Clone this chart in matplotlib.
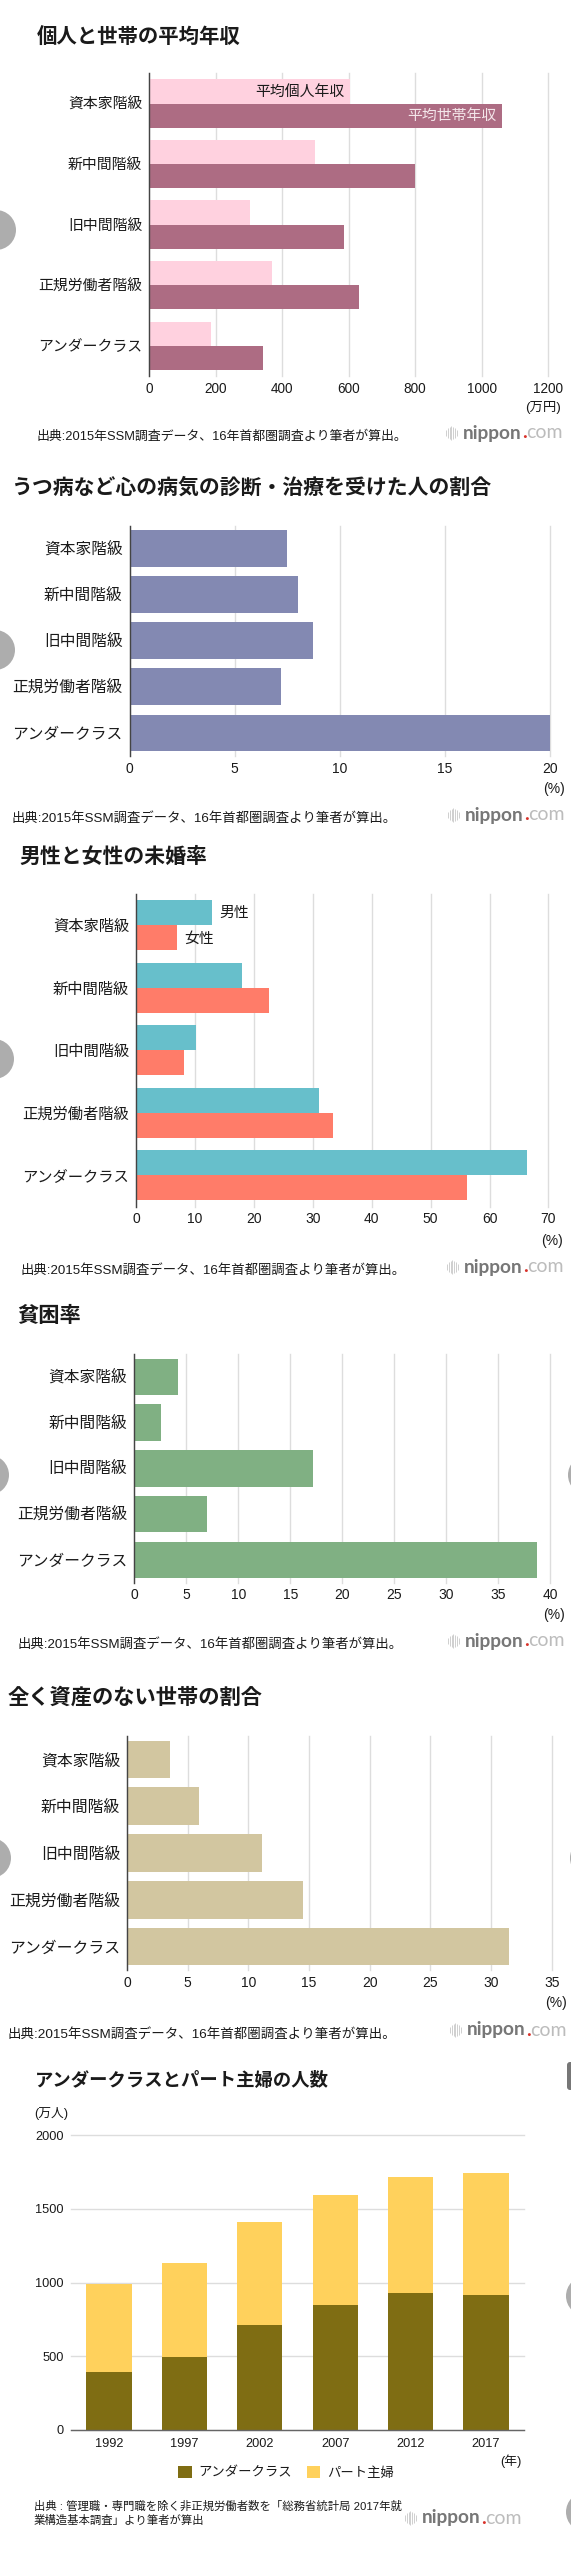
#!/usr/bin/env python

import numpy as np
import matplotlib
matplotlib.use('Agg')
import matplotlib.pyplot as plt
from matplotlib.patches import Circle, FancyBboxPatch

#################################################

# - Data
classes = ['資本家階級', '新中間階級', '旧中間階級', '正規労働者階級', 'アンダークラス']

income_personal = [604, 499, 303, 369, 185]
income_household = [1061, 799, 586, 630, 343]
depression = [7.5, 8.0, 8.7, 7.2, 20.0]
unmarried_men = [12.9, 18.0, 10.2, 31.0, 66.4]
unmarried_women = [7.0, 22.6, 8.1, 33.5, 56.1]
poverty = [4.2, 2.6, 17.2, 7.0, 38.7]
no_assets = [3.5, 5.9, 11.1, 14.5, 31.5]

years = ['1992', '1997', '2002', '2007', '2012', '2017']
underclass = [395, 495, 712, 847, 929, 915]
part_wives = [597, 639, 696, 744, 786, 825]

source_text = '出典:2015年SSM調査データ、16年首都圏調査より筆者が算出。'

W, H = 571, 2552
plt.rcParams['font.family'] = ['Liberation Sans', 'Noto Sans CJK JP']
TXT = '#1a1a1a'

fig = plt.figure(figsize=(W / 100, H / 100), dpi=100)


def px_axes(left, top, right, bottom):
    return fig.add_axes([left / W, 1 - bottom / H, (right - left) / W, (bottom - top) / H])


def style_hbar(ax, xmax, step, cat_size, tick_size):
    ax.set_xlim(0, xmax)
    ax.set_ylim(4.5, -0.5)
    ax.set_yticks(range(len(classes)))
    ax.set_yticklabels(classes, fontsize=cat_size, color=TXT)
    ax.set_xticks(np.arange(0, xmax + step, step))
    ax.tick_params(axis='both', length=0, labelsize=tick_size, labelcolor=TXT)
    ax.tick_params(axis='y', pad=5, labelsize=cat_size)
    ax.tick_params(axis='x', pad=4)
    ax.grid(axis='x', color='#dddddd', linewidth=1.0)
    for line in ax.get_xgridlines():
        line.set_clip_on(False)
    ax.set_axisbelow(True)
    for s in ['top', 'right', 'bottom']:
        ax.spines[s].set_visible(False)
    ax.spines['left'].set_color('#444444')
    ax.spines['left'].set_linewidth(1.0)


# - Chart 1: income
ax1 = px_axes(149.3, 73.3, 548, 376)
y = np.arange(len(classes))
ax1.barh(y - 0.2, income_personal, height=0.4, color='#ffd1df')
ax1.barh(y + 0.2, income_household, height=0.4, color='#ad6c83')
style_hbar(ax1, 1200, 200, 10.7, 9.8)

# - Chart 2: depression
ax2 = px_axes(129.6, 525.7, 550.2, 756)
ax2.barh(y, depression, height=0.8, color='#8389b2')
style_hbar(ax2, 20, 5, 11.3, 10)

# - Chart 3: unmarried
ax3 = px_axes(136.2, 894, 548.4, 1206.7)
ax3.barh(y - 0.2, unmarried_men, height=0.4, color='#67bfcb')
ax3.barh(y + 0.2, unmarried_women, height=0.4, color='#ff7c69')
style_hbar(ax3, 70, 10, 11, 10)

# - Chart 4: poverty
ax4 = px_axes(134.4, 1354, 550.2, 1582.7)
ax4.barh(y, poverty, height=0.8, color='#80b083')
style_hbar(ax4, 40, 5, 11.3, 10)

# - Chart 5: no assets
ax5 = px_axes(127.1, 1736, 551.7, 1970)
ax5.barh(y, no_assets, height=0.8, color='#d2c6a0')
style_hbar(ax5, 35, 5, 11.4, 10)

# - Chart 6: stacked columns
ax6 = px_axes(71.4, 2135, 523.7, 2430)
x = np.arange(len(years))
ax6.bar(x, underclass, width=0.6, color='#7f6d13', label='アンダークラス')
ax6.bar(x, part_wives, width=0.6, bottom=underclass, color='#ffd15c', label='パート主婦')
ax6.set_xlim(-0.5, 5.5)
ax6.set_ylim(0, 2000)
ax6.set_xticks(x)
ax6.set_xticklabels(years)
ax6.set_yticks([0, 500, 1000, 1500, 2000])
ax6.tick_params(axis='both', length=0, labelsize=9.2, labelcolor=TXT)
ax6.tick_params(axis='x', pad=6)
ax6.tick_params(axis='y', pad=5.5)
ax6.grid(axis='y', color='#dddddd', linewidth=1.0)
for line in ax6.get_ygridlines():
    line.set_clip_on(False)
ax6.set_axisbelow(True)
for s in ['top', 'right', 'left']:
    ax6.spines[s].set_visible(False)
ax6.spines['bottom'].set_color('#666666')
ax6.spines['bottom'].set_linewidth(1.0)
ax6.legend(loc='center', bbox_to_anchor=(286 / W, 1 - 2473 / H), bbox_transform=fig.transFigure,
           ncol=2, frameon=False, fontsize=9.6, handlelength=1.0, handleheight=1.0,
           handletextpad=0.5, columnspacing=1.1, labelcolor=TXT)

# - Overlay in pixel coordinates for titles, notes and the page furniture
ov = fig.add_axes([0, 0, 1, 1], zorder=10)
ov.set_xlim(0, W)
ov.set_ylim(H, 0)
ov.axis('off')
ov.patch.set_alpha(0)


def label(px, py, s, size, ha='left', color=TXT, **kw):
    return ov.text(px, py, s, fontsize=size, ha=ha, va='center', color=color, **kw)


def logo(right, py):
    r = fig.canvas.get_renderer()
    com = ov.text(right, py, 'com', fontsize=14, ha='right', va='center', color='#bcbcbc',
                  family=['Lato'], fontweight='normal')
    x0 = com.get_window_extent(r).x0
    dot = ov.text(x0, py, '.', fontsize=14, ha='right', va='center', color='#d8322a',
                  family=['Lato'], fontweight='bold')
    x0 = dot.get_window_extent(r).x0
    nip = ov.text(x0, py, 'nippon', fontsize=13.8, ha='right', va='center', color='#777777',
                  family=['Lato'], fontweight='bold')
    x0 = nip.get_window_extent(r).x0 - 5
    for i, h in enumerate([3, 5, 6, 7, 6, 5, 3]):
        ov.vlines(x0 - 12 + i * 1.8, py - h, py + h, color='#cfcfcf', linewidth=0.7)


label(36.4, 37, '個人と世帯の平均年収', 14.7, fontweight='bold')
label(11, 487, 'うつ病など心の病気の診断・治療を受けた人の割合', 15, fontweight='bold')
label(19, 857, '男性と女性の未婚率', 15, fontweight='bold')
label(17, 1316, '貧困率', 15.3, fontweight='bold')
label(7.3, 1697, '全く資産のない世帯の割合', 15.3, fontweight='bold')
label(34.6, 2081, 'アンダークラスとパート主婦の人数', 13.2, fontweight='bold')

label(344, 92, '平均個人年収', 10.7, ha='right')
label(496, 116, '平均世帯年収', 10.7, ha='right', color='#f4e6ea')
label(219.6, 913, '男性', 10.7)
label(184, 939, '女性', 10.7)

label(561, 407, '(万円)', 9.6, ha='right')
label(565, 789, '(%)', 10, ha='right')
label(563, 1240.7, '(%)', 10, ha='right')
label(565, 1615, '(%)', 10, ha='right')
label(567, 2003, '(%)', 10, ha='right')
label(34.6, 2113, '(万人)', 9.2)
label(521.5, 2461, '(年)', 9.2, ha='right')

label(36.4, 437, source_text, 9.3)
label(11.6, 819, source_text, 9.6)
label(20, 1271, source_text, 9.6)
label(17.5, 1645, source_text, 9.6)
label(7.6, 2034, source_text, 9.7)
label(33.5, 2506, '出典 : 管理職・専門職を除く非正規労働者数を「総務省統計局 2017年就', 8.2)
label(33.5, 2520, '業構造基本調査」より筆者が算出', 8.2)

logo(563, 433)
logo(565, 815)
logo(564, 1267)
logo(565, 1641)
logo(567, 2030)
logo(522, 2518)

# - Carousel buttons that sit on the page edges
for cx, cy in [(-4, 230), (-5, 650), (-6, 1059), (-11, 1475), (-9, 1858),
               (588, 1475), (590, 1858), (586, 2296), (586, 2512)]:
    ov.add_patch(Circle((cx, cy), 20, color='#adadad', lw=0))
ov.add_patch(FancyBboxPatch((567, 2062), 10, 28, boxstyle='round,pad=0,rounding_size=3',
                            color='#777777', lw=0))

# - Save figure
plt.savefig('out.png', dpi=100)
